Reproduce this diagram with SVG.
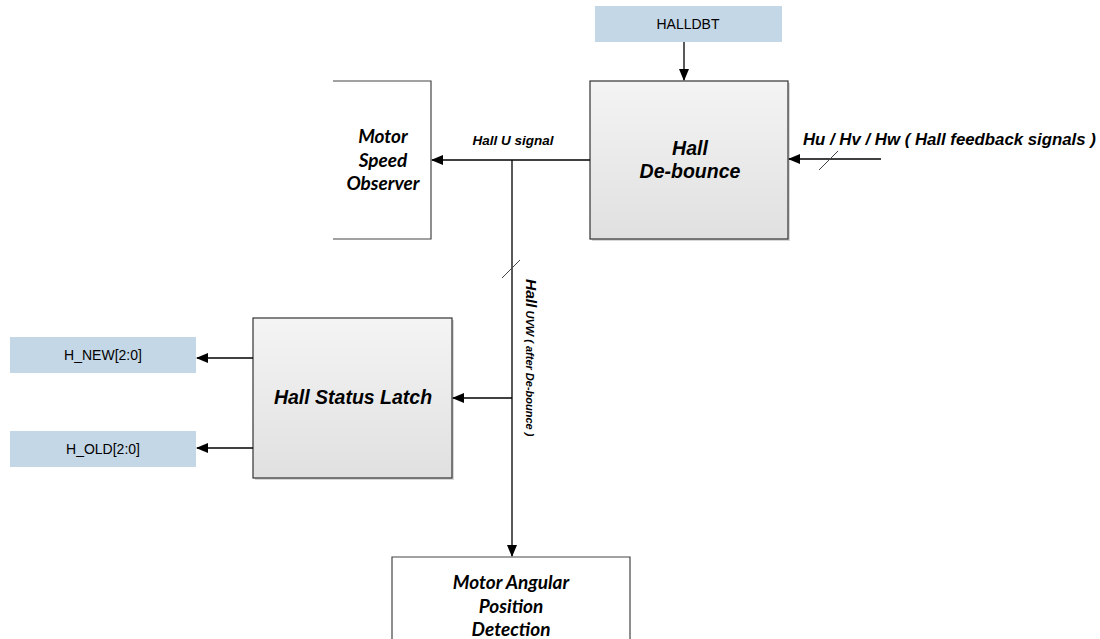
<svg xmlns="http://www.w3.org/2000/svg" width="1100" height="639" viewBox="0 0 1100 639">
<style>
.box{stroke:#333;stroke-width:1.2;fill:url(#g)}
.shadow{fill:#d8d8d8}
.open{fill:none;stroke:#444;stroke-width:1.2}
.blue{fill:#c4d7e7}
.wire{stroke:#000;stroke-width:1.3;fill:none}
.slash{stroke:#444;stroke-width:1;fill:none}
.t{font-family:"Liberation Sans",Arial,sans-serif;fill:#000}
.bi{font-weight:bold;font-style:italic}
.cal{font-family:Lato,"Open Sans",sans-serif;font-weight:bold;font-style:italic;fill:#000}
</style>
<defs>
<linearGradient id="g" x1="0" y1="0" x2="0" y2="1">
<stop offset="0" stop-color="#f4f4f4"/>
<stop offset="1" stop-color="#e0e0e0"/>
</linearGradient>
<marker id="ah" markerWidth="12" markerHeight="10" refX="11" refY="5" orient="auto" markerUnits="userSpaceOnUse">
<path d="M0,0 L12,5 L0,10 Z" fill="#000"/>
</marker>
</defs>
<rect width="1100" height="639" fill="#fff"/>

<g id="halldbt">
<rect class="blue" x="595" y="6" width="187" height="36"/>
<text class="t" x="688" y="29" font-size="14" text-anchor="middle">HALLDBT</text>
</g>

<g id="debounce">
<rect class="shadow" x="592" y="83" width="198" height="158"/>
<rect class="box" x="590" y="81" width="198" height="158"/>
<text class="t bi" x="690" y="155" font-size="19.5" text-anchor="middle">Hall</text>
<text class="t bi" x="690" y="178" font-size="19.5" text-anchor="middle">De-bounce</text>
</g>

<g id="speed-observer">
<path class="open" d="M333,81 H431 V239 H333"/>
<text class="cal" x="383" y="143" font-size="19" text-anchor="middle">Motor</text>
<text class="cal" x="383" y="167" font-size="19" text-anchor="middle">Speed</text>
<text class="cal" x="383" y="190" font-size="19" text-anchor="middle">Observer</text>
</g>

<g id="latch">
<rect class="shadow" x="255" y="320" width="199" height="160"/>
<rect class="box" x="253" y="318" width="199" height="160"/>
<text class="t bi" x="353" y="404" font-size="19.5" text-anchor="middle">Hall Status Latch</text>
</g>

<g id="h-new">
<rect class="blue" x="10" y="337" width="186" height="36"/>
<text class="t" x="103" y="360" font-size="14" text-anchor="middle">H_NEW[2:0]</text>
</g>

<g id="h-old">
<rect class="blue" x="10" y="431" width="186" height="36"/>
<text class="t" x="103" y="454" font-size="14" text-anchor="middle">H_OLD[2:0]</text>
</g>

<g id="angular">
<path class="open" d="M392,639 V557 H630 V639"/>
<text class="cal" x="511" y="589" font-size="19" text-anchor="middle">Motor Angular</text>
<text class="cal" x="511" y="613" font-size="19" text-anchor="middle">Position</text>
<text class="cal" x="511" y="636" font-size="19" text-anchor="middle">Detection</text>
</g>

<g id="connectors">
<line class="wire" x1="684" y1="42" x2="684" y2="80" marker-end="url(#ah)"/>
<line class="wire" x1="881" y1="159" x2="789" y2="159" marker-end="url(#ah)"/>
<line class="slash" x1="819" y1="170" x2="838" y2="151"/>
<line class="wire" x1="590" y1="160" x2="432" y2="160" marker-end="url(#ah)"/>
<line class="wire" x1="512" y1="160" x2="512" y2="556" marker-end="url(#ah)"/>
<line class="slash" x1="502" y1="278" x2="520" y2="260"/>
<line class="wire" x1="512" y1="398" x2="453" y2="398" marker-end="url(#ah)"/>
<line class="wire" x1="253" y1="358" x2="197" y2="358" marker-end="url(#ah)"/>
<line class="wire" x1="253" y1="448" x2="197" y2="448" marker-end="url(#ah)"/>
<text class="t bi" x="513" y="145" font-size="13.5" text-anchor="middle">Hall U signal</text>
<text class="t bi" x="803" y="145" font-size="16.8">Hu / Hv / Hw ( Hall feedback signals )</text>
<text class="t bi" transform="translate(526,279) rotate(90)"><tspan font-size="15.5">Hall</tspan><tspan font-size="11"> UVW ( after De-bounce )</tspan></text>
</g>
</svg>
